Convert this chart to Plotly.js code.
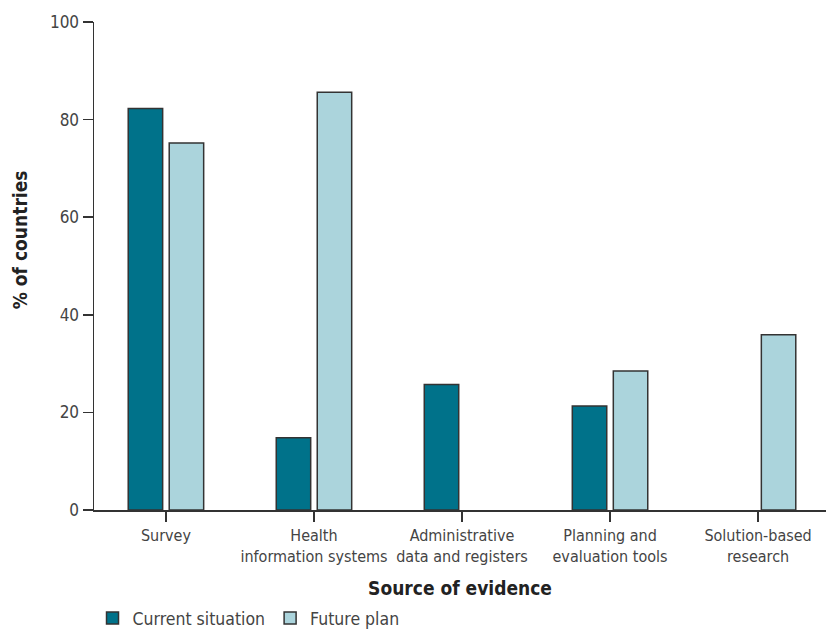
<!DOCTYPE html>
<html>
<head>
<meta charset="utf-8">
<script src="https://cdn.plot.ly/plotly-3.0.1.min.js"></script>
<style>
html,body{margin:0;padding:0;background:#fff;}
#chart{width:826px;height:632px;}
</style>
</head>
<body>
<div id="chart"></div>
<script>
const categories = ["Survey<br> ", "Health<br>information systems", "Administrative<br>data and registers", "Planning and<br>evaluation tools", "Solution-based<br>research"];
const currentSituation = [82.3, 14.8, 25.7, 21.3, 0];
const futurePlan = [75.2, 85.6, 0, 28.5, 35.9];
const seriesNames = ["Current situation", "Future plan"];
const yTicks = [0, 20, 40, 60, 80, 100];

const FAM = '"DejaVu Sans Condensed", "DejaVu Sans", sans-serif';
const F = (size, color, extra) => Object.assign({family: FAM, size: size, color: color, stretch: 'condensed'}, extra || {});
const idx = categories.map((_, i) => i);
const noZero = arr => arr.map(v => (v === 0 ? null : v));

const traces = [
  {
    type: 'bar', name: seriesNames[0], x: idx, y: noZero(currentSituation),
    marker: {color: '#00728a', line: {color: '#333333', width: 1.5}},
    hoverinfo: 'skip'
  },
  {
    type: 'bar', name: seriesNames[1], x: idx, y: noZero(futurePlan),
    marker: {color: '#abd4dc', line: {color: '#333333', width: 1.5}},
    hoverinfo: 'skip'
  }
];

const layout = {
  width: 826, height: 632,
  margin: {l: 94, r: 0, t: 22, b: 122},
  paper_bgcolor: '#ffffff', plot_bgcolor: '#ffffff',
  font: F(16, '#444444'),
  barmode: 'group',
  bargap: 0.446,
  bargroupgap: 0.16,
  showlegend: true,
  legend: {
    orientation: 'h', xref: 'container', yref: 'container',
    x: 0.112, xanchor: 'left', y: 0.022, yanchor: 'middle',
    font: F(17.5, '#444444'),
    traceorder: 'normal', itemwidth: 30
  },
  xaxis: {
    range: [-0.486, 4.459], automargin: false, tickangle: 0,
    tickmode: 'array', tickvals: idx, ticktext: categories,
    showline: true, linecolor: '#333333', linewidth: 1.5,
    ticks: 'outside', ticklen: 10, tickcolor: '#333333', tickwidth: 1.5,
    showgrid: false, zeroline: false, fixedrange: true,
    tickfont: F(16, '#444444'),
    title: {text: 'Source of evidence', standoff: 17,
      font: F(19, '#222222', {weight: 'bold'})}
  },
  yaxis: {
    range: [0, 100], automargin: false,
    tickmode: 'array', tickvals: yTicks, ticktext: yTicks.map(String),
    showline: true, linecolor: '#333333', linewidth: 1.5,
    ticks: 'outside', ticklen: 10, tickcolor: '#333333', tickwidth: 1.5,
    showgrid: false, zeroline: false, fixedrange: true,
    tickfont: F(17, '#444444')
  },
  annotations: [
    {
      text: '<b>% of countries</b>', xref: 'paper', yref: 'paper',
      x: -0.101, y: 0.553, xanchor: 'center', yanchor: 'middle', textangle: -90,
      showarrow: false, font: F(19, '#222222')
    }
  ]
};

Plotly.newPlot('chart', traces, layout, {displayModeBar: false, staticPlot: true});
</script>
</body>
</html>
